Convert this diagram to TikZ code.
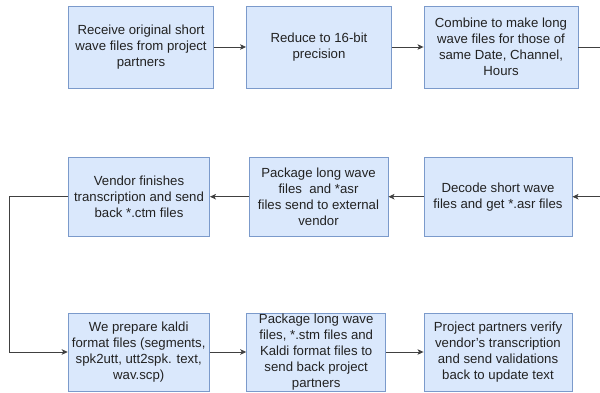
\documentclass[tikz,border=0pt]{standalone}
\usepackage{fontspec}
\setmainfont{Liberation Sans}
\usetikzlibrary{arrows.meta}
\definecolor{boxfill}{HTML}{DAE8FC}
\definecolor{boxline}{HTML}{7B9ACB}
\definecolor{txt}{HTML}{222222}
\tikzset{
  procbox/.style={draw=boxline, fill=boxfill, line width=0.9pt, inner sep=0pt,
    align=center, text=txt, font=\fontsize{13.2}{16}\selectfont},
  flow/.style={draw=black!75, line width=0.9pt, -{Stealth[length=6pt,width=5.5pt,inset=1.5pt]}},
  plain/.style={draw=black!75, line width=0.9pt}
}
\begin{document}
\begin{tikzpicture}[x=1pt,y=-1pt]
\useasboundingbox (0,0) rectangle (600,393);
\node[procbox, minimum width=145pt, minimum height=82pt] (b1) at (141,47) {Receive original short\\wave files from project\\partners};
\node[procbox, minimum width=145pt, minimum height=82pt] (b2) at (319,47) {Reduce to 16-bit\\precision};
\node[procbox, minimum width=154pt, minimum height=82pt] (b3) at (501,47) {Combine to make long\\wave files for those of\\same Date, Channel,\\Hours};
\node[procbox, minimum width=141pt, minimum height=79pt] (b4) at (139,196.7) {Vendor finishes\\transcription and send\\back *.ctm files};
\node[procbox, minimum width=139pt, minimum height=79pt] (b5) at (318.5,196.7) {Package long wave\\files\ \ and *asr\\files send to external\\vendor};
\node[procbox, minimum width=148pt, minimum height=79pt] (b6) at (498,196.7) {Decode short wave\\files and get *.asr files};
\node[procbox, minimum width=141pt, minimum height=78pt] (b7) at (138.7,352.5) {We prepare kaldi\\format files (segments,\\spk2utt, utt2spk. text,\\wav.scp)};
\node[procbox, minimum width=139pt, minimum height=78pt] (b8) at (316.2,352.5) {Package long wave\\files, *.stm files and\\Kaldi format files to\\send back project\\partners};
\node[procbox, minimum width=148pt, minimum height=78pt] (b9) at (498,352.5) {Project partners verify\\vendor{\char"0027}s transcription\\and send validations\\back to update text};
\coordinate (e3) at (601,47);
\coordinate (e6) at (601,196.7);
\coordinate (l1) at (9.5,196.7);
\coordinate (l2) at (9.5,352);
\draw[flow] (b1.east) -- (b2.west);
\draw[flow] (b2.east) -- (b3.west);
\draw[plain] (b3.east) -- (e3);
\draw[flow] (e6) -- (b6.east);
\draw[flow] (b6.west) -- (b5.east);
\draw[flow] (b5.west) -- (b4.east);
\draw[flow] (b4.west) -- (l1) -- (l2) -- (b7.west |- l2);
\draw[flow] (b7.east |- l2) -- (b8.west |- l2);
\draw[flow] (b8.east |- l2) -- (b9.west |- l2);
\end{tikzpicture}
\end{document}
